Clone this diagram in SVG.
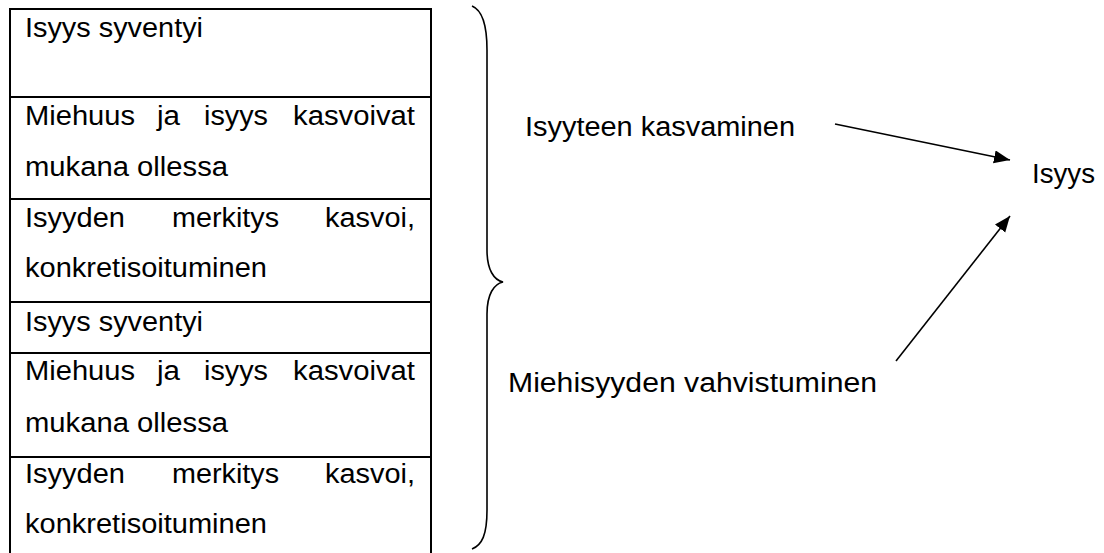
<svg xmlns="http://www.w3.org/2000/svg" width="1104" height="553" viewBox="0 0 1104 553">
<style>
text{font-family:"Liberation Sans",Arial,sans-serif;font-size:27px;fill:#000}
.tb{fill:none;stroke:#000;stroke-width:2}
.br{fill:none;stroke:#000;stroke-width:1.6}
.cn{stroke:#000;stroke-width:1.6;fill:none}
</style>
<defs>
<marker id="ah" markerUnits="userSpaceOnUse" markerWidth="18" markerHeight="14" refX="16" refY="6.5" orient="auto">
<path d="M0,0 L16,6.5 L0,13 Z" fill="#000"/>
</marker>
</defs>
<rect width="1104" height="553" fill="#fff"/>
<g id="table">
<path class="tb" d="M10,553 V9 H431 V553"/>
<path class="tb" d="M10,97 H431 M10,199 H431 M10,302 H431 M10,353 H431 M10,457 H431"/>
</g>
<g id="row1"><text x="25" y="37" textLength="178" lengthAdjust="spacingAndGlyphs">Isyys syventyi</text></g>
<g id="row2">
<text x="25" y="125" textLength="110" lengthAdjust="spacingAndGlyphs">Miehuus</text>
<text x="157" y="125" textLength="23" lengthAdjust="spacingAndGlyphs">ja</text>
<text x="204" y="125" textLength="64" lengthAdjust="spacingAndGlyphs">isyys</text>
<text x="293" y="125" textLength="122" lengthAdjust="spacingAndGlyphs">kasvoivat</text>
<text x="25" y="176" textLength="203" lengthAdjust="spacingAndGlyphs">mukana ollessa</text>
</g>
<g id="row3">
<text x="25" y="227" textLength="100" lengthAdjust="spacingAndGlyphs">Isyyden</text>
<text x="172" y="227" textLength="107" lengthAdjust="spacingAndGlyphs">merkitys</text>
<text x="325" y="227" textLength="90" lengthAdjust="spacingAndGlyphs">kasvoi,</text>
<text x="25" y="277" textLength="242" lengthAdjust="spacingAndGlyphs">konkretisoituminen</text>
</g>
<g id="row4"><text x="25" y="331" textLength="178" lengthAdjust="spacingAndGlyphs">Isyys syventyi</text></g>
<g id="row5">
<text x="25" y="380" textLength="110" lengthAdjust="spacingAndGlyphs">Miehuus</text>
<text x="157" y="380" textLength="23" lengthAdjust="spacingAndGlyphs">ja</text>
<text x="204" y="380" textLength="64" lengthAdjust="spacingAndGlyphs">isyys</text>
<text x="293" y="380" textLength="122" lengthAdjust="spacingAndGlyphs">kasvoivat</text>
<text x="25" y="432" textLength="203" lengthAdjust="spacingAndGlyphs">mukana ollessa</text>
</g>
<g id="row6">
<text x="25" y="483" textLength="100" lengthAdjust="spacingAndGlyphs">Isyyden</text>
<text x="172" y="483" textLength="107" lengthAdjust="spacingAndGlyphs">merkitys</text>
<text x="325" y="483" textLength="90" lengthAdjust="spacingAndGlyphs">kasvoi,</text>
<text x="25" y="533" textLength="242" lengthAdjust="spacingAndGlyphs">konkretisoituminen</text>
</g>
<g id="brace">
<path class="br" d="M472,6 C482,10 487,25 487,50 L487,250 C487,270 494,280 503,282 C494,284 487,294 487,314 L487,510 C487,535 482,545 472,549"/>
</g>
<g id="n-kasvaminen"><text x="525" y="136" textLength="270" lengthAdjust="spacingAndGlyphs">Isyyteen kasvaminen</text></g>
<g id="n-miehisyys"><text x="508" y="392" textLength="369" lengthAdjust="spacingAndGlyphs">Miehisyyden vahvistuminen</text></g>
<g id="n-isyys"><text x="1032" y="183" textLength="63" lengthAdjust="spacingAndGlyphs">Isyys</text></g>
<g id="connectors">
<line class="cn" x1="835" y1="124" x2="1010" y2="160" marker-end="url(#ah)"/>
<line class="cn" x1="896" y1="361" x2="1010" y2="216" marker-end="url(#ah)"/>
</g>
</svg>
